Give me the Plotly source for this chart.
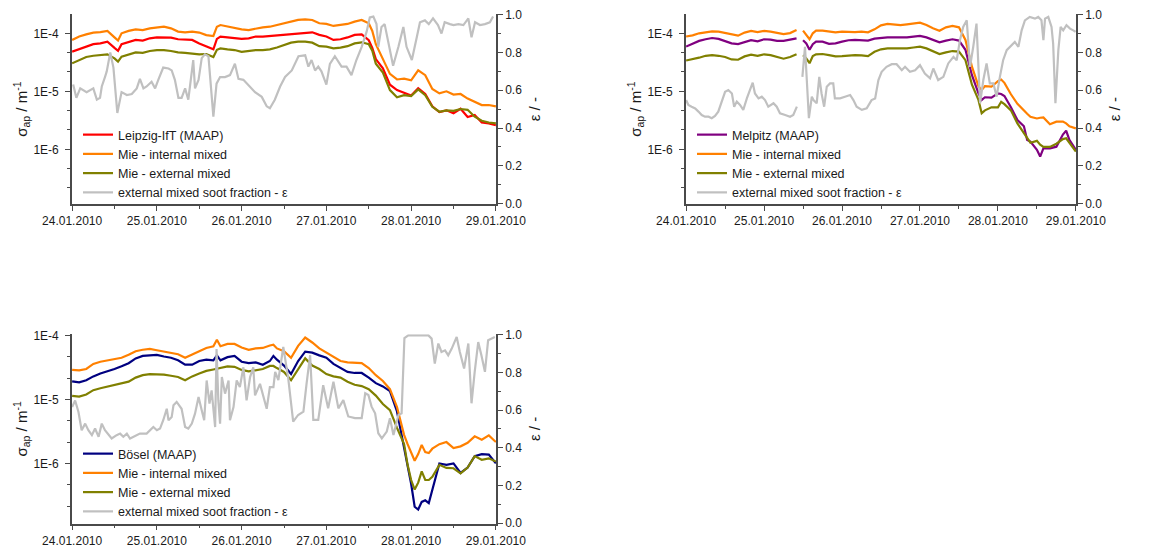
import pandas as pd
import plotly.graph_objects as go

# ---------------- DATA (hours after 24.01.2010 00:00) ----------------
T0 = pd.Timestamp("2010-01-24 00:00")

# Panel 1 : Leipzig-IfT
leip_hours = [0, 2, 4, 6, 8, 10, 12, 13, 14, 16, 18, 20, 22, 24, 26, 28, 30, 32, 34, 36, 38, 40, 41,
              42, 44, 46, 48, 50, 52, 54, 56, 58, 60, 62, 64, 66, 68, 70, 72, 74, 76, 78, 80, 82, 84, 85,
              86, 88, 90, 92, 94, 96, 98, 100, 102, 104, 106, 108, 110, 112, 114, 116, 118, 120]
leip_maap = [4.83e-5, 5.3e-5, 5.9e-5, 6.5e-5, 6.7e-5, 7.2e-5, 5.6e-5, 5.0e-5, 6.5e-5, 7.0e-5, 7.7e-5, 7.5e-5,
             8.2e-5, 8.5e-5, 8.5e-5, 8.4e-5, 7.9e-5, 7.9e-5, 7.7e-5, 6.7e-5, 6.0e-5, 5.3e-5, 8.0e-5,
             8.8e-5, 8.5e-5, 8.2e-5, 8.0e-5, 8.2e-5, 8.8e-5, 8.8e-5, 9.0e-5, 9.2e-5, 9.4e-5, 9.7e-5, 1.0e-4,
             1.03e-4, 1.04e-4, 9.4e-5, 8.8e-5, 7.7e-5, 7.9e-5, 8.5e-5, 9.4e-5, 9.6e-5, 7.6e-5, 5.6e-5,
             3.6e-5, 2.5e-5, 1.3e-5, 1.05e-5, 9.5e-6, 8.5e-6, 1.13e-5, 9.0e-6, 5.5e-6, 4.4e-6, 4.7e-6, 4.2e-6,
             5.0e-6, 3.6e-6, 3.9e-6, 2.9e-6, 2.8e-6, 2.6e-6]
leip_int = [7.7e-5, 8.8e-5, 9.6e-5, 1.03e-4, 1.05e-4, 1.1e-4, 8.5e-5, 7.5e-5, 1.0e-4, 1.1e-4, 1.17e-4, 1.14e-4,
            1.22e-4, 1.27e-4, 1.3e-4, 1.22e-4, 1.07e-4, 1.04e-4, 1.07e-4, 1.03e-4, 9.3e-5, 9.0e-5, 1.3e-4,
            1.39e-4, 1.3e-4, 1.22e-4, 1.17e-4, 1.14e-4, 1.22e-4, 1.27e-4, 1.3e-4, 1.39e-4, 1.49e-4, 1.59e-4,
            1.7e-4, 1.74e-4, 1.7e-4, 1.49e-4, 1.45e-4, 1.34e-4, 1.39e-4, 1.45e-4, 1.59e-4, 1.7e-4, 1.49e-4,
            1.1e-4, 6.5e-5, 3.6e-5, 2.0e-5, 1.6e-5, 1.65e-5, 1.55e-5, 2.3e-5, 1.9e-5, 1.1e-5, 9.2e-6, 1.0e-5,
            8.8e-6, 9.0e-6, 7.5e-6, 6.5e-6, 5.8e-6, 5.8e-6, 5.5e-6]
leip_ext = [3.04e-5, 3.5e-5, 3.9e-5, 4.1e-5, 4.2e-5, 4.35e-5, 3.7e-5, 3.25e-5, 3.95e-5, 4.35e-5, 4.7e-5, 4.6e-5,
            4.95e-5, 5.15e-5, 5.15e-5, 4.95e-5, 4.7e-5, 4.6e-5, 4.5e-5, 4.35e-5, 4.4e-5, 3.9e-5, 5.2e-5,
            5.5e-5, 5.3e-5, 5.15e-5, 4.8e-5, 4.95e-5, 5.15e-5, 5.15e-5, 5.3e-5, 5.7e-5, 6.3e-5, 6.9e-5, 7.2e-5,
            7.2e-5, 6.9e-5, 6.0e-5, 5.9e-5, 5.5e-5, 5.65e-5, 6.0e-5, 6.7e-5, 7.0e-5, 6.5e-5, 5.0e-5,
            3.0e-5, 2.1e-5, 1.05e-5, 7.9e-6, 8.6e-6, 8.3e-6, 1.08e-5, 8.6e-6, 5.4e-6, 4.45e-6, 4.7e-6, 4.6e-6,
            4.95e-6, 4.8e-6, 3.65e-6, 3.1e-6, 2.9e-6, 2.8e-6]
leip_eps_hours = [0.3, 1.2, 2.3, 4.1, 6.0, 7.0, 7.9, 8.4, 9.3, 9.8, 10.8, 11.7, 12.8, 14.0, 15.5, 16.9, 18.3,
                  19.2, 20.2, 21.1, 22.5, 23.5, 24.4, 25.8, 27.3, 28.2, 29.1, 30.1, 31.0, 32.0, 32.9, 33.6,
                  34.3, 34.8, 35.8, 36.7, 37.6, 38.6, 40.0, 40.9, 41.9, 43.3, 44.7, 46.1, 47.1, 48.5, 49.9,
                  51.8, 53.7, 55.1, 56.0, 57.4, 58.9, 60.3, 62.2, 64.1, 66.0, 66.9, 67.8, 68.8, 69.7, 70.6,
                  72.0, 73.0, 74.4, 76.3, 77.7, 79.1, 80.5, 82.0, 83.4, 84.3, 85.3, 86.2, 86.7, 87.6, 88.5,
                  89.5, 90.9, 92.4, 93.8, 94.7, 96.2, 97.6, 98.5, 99.9, 101.0, 102.2, 103.6, 104.6, 105.5,
                  107.0, 108.0, 109.4, 110.8, 112.2, 113.1, 114.1, 115.5, 116.9, 118.3, 119.2]
leip_eps = [0.63, 0.56, 0.61, 0.59, 0.61, 0.55, 0.56, 0.62, 0.67, 0.70, 0.80, 0.72, 0.48, 0.59, 0.575, 0.58, 0.61,
            0.66, 0.61, 0.62, 0.645, 0.61, 0.655, 0.72, 0.715, 0.705, 0.655, 0.56, 0.56, 0.61, 0.55, 0.655,
            0.76, 0.61, 0.655, 0.77, 0.79, 0.78, 0.46, 0.635, 0.67, 0.67, 0.68, 0.74, 0.66, 0.655, 0.625,
            0.59, 0.565, 0.515, 0.505, 0.55, 0.62, 0.67, 0.705, 0.78, 0.785, 0.725, 0.76, 0.705, 0.725, 0.70,
            0.63, 0.74, 0.78, 0.725, 0.725, 0.68, 0.76, 0.83, 0.91, 0.985, 0.99, 0.95, 0.83, 0.935, 0.95,
            0.865, 0.73, 0.83, 0.935, 0.83, 0.76, 0.88, 0.96, 0.97, 0.95, 0.98, 0.945, 0.90, 0.96,
            0.95, 0.945, 0.95, 0.945, 0.98, 0.88, 0.96, 0.945, 0.95, 0.96, 0.99]

# Panel 2 : Melpitz (None = data gap)
melp_hours = [0, 2, 4, 6, 8, 10, 12, 14, 16, 18, 20, 22, 24, 26, 28, 30, 32, 34, 35, 36, 37, 38, 39, 40,
              42, 44, 46, 48, 50, 52, 54, 56, 58, 60, 62, 64, 66, 68, 70, 72, 74, 76, 78, 80, 82, 84,
              86, 88, 90, 91, 92, 94, 96, 97, 98, 100, 102, 104, 105, 106, 108, 109, 110, 112, 114, 116,
              117, 118, 120]
melp_maap = [5.9e-5, 6.6e-5, 7.4e-5, 7.9e-5, 8.3e-5, 8.0e-5, 7.4e-5, 6.7e-5, 6.5e-5, 7.1e-5, 7.6e-5, 7.3e-5,
             7.9e-5, 7.8e-5, 7.4e-5, 7.4e-5, 7.7e-5, 8.2e-5, None, 7.6e-5, 6.7e-5, 5.2e-5, 6.5e-5, 7.2e-5,
             7.2e-5, 6.6e-5, 6.7e-5, 7.2e-5, 7.6e-5, 7.7e-5, 7.6e-5, 7.5e-5, 8.1e-5, 8.4e-5, 8.5e-5, 8.5e-5,
             8.4e-5, 8.5e-5, 8.8e-5, 9.0e-5, 8.5e-5, 7.7e-5, 7.0e-5, 7.5e-5, 7.9e-5, 7.5e-5,
             5.2e-5, 1.9e-5, 9.2e-6, 7.1e-6, 7.9e-6, 7.8e-6, 9.2e-6, 9.0e-6, 8.3e-6, 5.3e-6, 3.2e-6, 2.5e-6,
             1.45e-6, 1.36e-6, 9.8e-7, 7.5e-7, 1.04e-6, 1.04e-6, 1.11e-6, 1.8e-6, 2.1e-6, 1.45e-6, 9.8e-7]
melp_int = [8.8e-5, 9.2e-5, 1.0e-4, 1.04e-4, 1.08e-4, 1.07e-4, 1.01e-4, 9.5e-5, 9.1e-5, 1.03e-4, 1.1e-4, 1.05e-4,
            1.1e-4, 1.07e-4, 1.01e-4, 9.7e-5, 1.01e-4, 1.14e-4, None, 1.11e-4, 9.4e-5, 7.9e-5, 1.0e-4, 1.11e-4,
            1.11e-4, 1.07e-4, 1.04e-4, 1.07e-4, 1.05e-4, 1.05e-4, 1.07e-4, 1.04e-4, 1.17e-4, 1.37e-4, 1.45e-4,
            1.43e-4, 1.39e-4, 1.43e-4, 1.49e-4, 1.53e-4, 1.39e-4, 1.22e-4, 1.11e-4, 1.27e-4, 1.34e-4, 1.27e-4,
            7.7e-5, 2.66e-5, 1.23e-5, 1.05e-5, 1.23e-5, 1.2e-5, 1.5e-5, 1.6e-5, 1.4e-5, 8.9e-6, 6.1e-6, 4.6e-6,
            4.1e-6, 3.65e-6, 3.4e-6, 3.5e-6, 3.55e-6, 2.7e-6, 3.0e-6, 3.0e-6, 2.8e-6, 2.5e-6, 2.3e-6]
melp_ext = [3.4e-5, 3.55e-5, 3.8e-5, 4.1e-5, 4.2e-5, 4.1e-5, 3.9e-5, 3.55e-5, 3.5e-5, 4.0e-5, 4.3e-5, 4.1e-5,
            4.35e-5, 4.2e-5, 3.9e-5, 3.65e-5, 3.9e-5, 4.35e-5, None, 4.2e-5, 3.7e-5, 3.05e-5, 4.05e-5, 4.35e-5,
            4.4e-5, 4.2e-5, 4.0e-5, 4.05e-5, 4.15e-5, 4.2e-5, 4.15e-5, 4.05e-5, 4.8e-5, 5.3e-5, 5.5e-5, 5.5e-5,
            5.45e-5, 5.5e-5, 5.7e-5, 5.9e-5, 5.5e-5, 4.85e-5, 4.4e-5, 4.7e-5, 4.95e-5, 4.85e-5,
            3.45e-5, 1.3e-5, 7.1e-6, 4.2e-6, 4.7e-6, 5.3e-6, 5.3e-6, 6.6e-6, 6.0e-6, 4.7e-6, 2.8e-6, 1.9e-6,
            1.6e-6, 1.3e-6, 1.4e-6, 1.2e-6, 1.1e-6, 1.1e-6, 1.25e-6, 1.5e-6, 1.55e-6, 1.3e-6, 9.1e-7]
melp_eps_hours = [0.0, 0.7, 1.7, 2.8, 3.8, 4.8, 5.8, 6.9, 7.9, 8.9, 9.9, 11.0, 12.0, 13.0, 14.1, 14.8, 15.6,
                  16.6, 17.6, 18.7, 19.7, 20.5, 21.2, 22.3, 23.3, 24.3, 25.3, 26.9, 27.9, 28.9, 30.5, 32.0,
                  33.0, 34.1, 35.0, 35.8, 36.6, 37.8, 38.7, 39.2, 40.2, 41.0, 41.7, 42.5, 43.3, 44.3, 45.3,
                  45.8, 47.4, 48.9, 50.5, 51.5, 52.5, 54.1, 55.6, 57.1, 58.2, 59.2, 60.2, 61.7, 63.3, 64.8,
                  66.4, 67.4, 68.9, 70.5, 72.0, 73.5, 75.1, 76.1, 77.6, 79.2, 80.7, 82.3, 83.3, 84.3, 85.3,
                  86.4, 87.4, 88.4, 89.4, 90.5, 91.5, 92.5, 93.5, 94.6, 95.6, 96.6, 97.6, 98.7, 100.2, 101.2,
                  102.3, 103.3, 104.3, 105.8, 107.4, 108.4, 109.4, 110.0, 110.5, 111.5, 112.5, 113.0, 113.7,
                  114.6, 115.3, 116.1, 117.1, 118.2, 119.2, 119.9]
melp_eps = [0.548, 0.522, 0.513, 0.504, 0.487, 0.469, 0.46, 0.46, 0.452, 0.464, 0.487, 0.548, 0.592, 0.601, 0.583,
            0.513, 0.54, 0.522, 0.496, 0.557, 0.61, 0.64, 0.583, 0.557, 0.566, 0.548, 0.513, 0.531, 0.513, 0.478,
            0.469, 0.46, 0.469, 0.513, None, 0.671, 0.83, 0.452, 0.566, 0.548, 0.531, 0.671, 0.583, 0.513, 0.619,
            0.636, 0.636, 0.557, 0.557, 0.566, 0.575, 0.548, 0.513, 0.496, 0.504, 0.548, 0.557, 0.654, 0.698,
            0.724, 0.738, 0.738, 0.706, 0.724, 0.698, 0.706, 0.733, 0.689, 0.663, 0.715, 0.654, 0.671, 0.742,
            0.777, 0.759, 0.865, 0.935, 0.97, 0.724, 0.83, 0.953, 0.531, 0.654, 0.742, 0.636, 0.636, 0.566, 0.671,
            0.759, 0.812, 0.838, 0.856, 0.83, 0.917, 0.97, 0.988, 0.979, 0.988, 0.97, 0.865, 0.979, 0.988, 0.935,
            0.847, 0.531, 0.812, 0.935, 0.917, 0.944, 0.926, 0.917, 0.909]

# Panel 3 : Bösel
bos_hours = [0, 2, 4, 6, 8, 10, 12, 14, 16, 18, 20, 22, 24, 26, 28, 30, 32, 34, 36, 38, 40, 41,
             42, 44, 46, 48, 50, 52, 54, 56, 57, 58, 60, 62, 64, 66, 68, 70, 72, 74, 76, 78, 80, 82, 84,
             86, 88, 90, 92, 94, 95, 96, 97, 98, 99, 100, 101, 102, 104, 106, 108, 110, 112, 114, 116, 118, 120]
bos_maap = [1.92e-5, 1.85e-5, 2.0e-5, 2.3e-5, 2.55e-5, 2.75e-5, 3.0e-5, 3.3e-5, 3.7e-5, 4.4e-5, 4.8e-5, 4.9e-5,
            5.0e-5, 4.7e-5, 4.5e-5, 4.1e-5, 3.5e-5, 3.5e-5, 4.0e-5, 4.2e-5, 4.1e-5, 4.9e-5,
            4.1e-5, 4.6e-5, 4.8e-5, 3.9e-5, 3.7e-5, 3.8e-5, 3.5e-5, 4.0e-5, 4.8e-5, 4.2e-5, 3.4e-5, 2.5e-5,
            4.0e-5, 5.6e-5, 5.4e-5, 4.9e-5, 4.5e-5, 3.6e-5, 3.1e-5, 2.7e-5, 2.6e-5, 2.6e-5, 2.2e-5,
            1.8e-5, 1.6e-5, 1.35e-5, 6.5e-6, 1.8e-6, 9.0e-7, 4.8e-7, 2.1e-7, 1.9e-7, 2.5e-7, 2.65e-7, 2.4e-7,
            3.9e-7, 1.0e-6, 9.5e-7, 1.0e-6, 7.1e-7, 8.6e-7, 1.3e-6, 1.4e-6, 1.37e-6, 1.0e-6]
bos_int = [2.9e-5, 2.85e-5, 3.0e-5, 3.6e-5, 3.9e-5, 4.1e-5, 4.3e-5, 4.5e-5, 5.0e-5, 5.7e-5, 6.0e-5, 6.2e-5,
           5.9e-5, 5.6e-5, 5.4e-5, 5.1e-5, 4.5e-5, 5.0e-5, 5.7e-5, 6.4e-5, 6.8e-5, 8.6e-5,
           6.8e-5, 7.4e-5, 7.4e-5, 6.5e-5, 6.0e-5, 6.3e-5, 6.4e-5, 7.0e-5, 7.2e-5, 6.3e-5, 5.7e-5, 4.5e-5,
           6.9e-5, 9.3e-5, 7.8e-5, 6.3e-5, 5.4e-5, 4.6e-5, 4.0e-5, 3.8e-5, 3.7e-5, 3.7e-5, 3.1e-5,
           2.4e-5, 1.95e-5, 1.45e-5, 7.6e-6, 2.8e-6, 2.0e-6, 1.5e-6, 1.1e-6, 1.4e-6, 1.95e-6, 1.5e-6, 1.45e-6,
           1.7e-6, 2.0e-6, 2.16e-6, 1.74e-6, 1.85e-6, 2.1e-6, 2.65e-6, 2.35e-6, 2.75e-6, 2.16e-6]
bos_ext = [1.14e-5, 1.11e-5, 1.2e-5, 1.4e-5, 1.5e-5, 1.6e-5, 1.7e-5, 1.8e-5, 1.9e-5, 2.2e-5, 2.4e-5, 2.5e-5,
           2.5e-5, 2.45e-5, 2.35e-5, 2.25e-5, 2.0e-5, 2.3e-5, 2.55e-5, 2.8e-5, 2.95e-5, 3.05e-5,
           3.1e-5, 3.3e-5, 3.25e-5, 2.9e-5, 2.75e-5, 2.85e-5, 3.0e-5, 3.35e-5, 3.35e-5, 3.1e-5, 2.7e-5, 2.0e-5,
           2.9e-5, 4.4e-5, 3.4e-5, 3.0e-5, 2.5e-5, 2.3e-5, 2.2e-5, 1.9e-5, 1.7e-5, 1.62e-5, 1.45e-5,
           1.15e-5, 8.5e-6, 6.8e-6, 3.6e-6, 2.0e-6, 9.5e-7, 5.5e-7, 3.9e-7, 5.0e-7, 7.5e-7, 5.5e-7, 5.5e-7,
           6.2e-7, 9.5e-7, 8.5e-7, 8.4e-7, 7.0e-7, 8.6e-7, 1.3e-6, 1.14e-6, 1.2e-6, 1.07e-6]
bos_eps_hours = [0.0, 0.85, 1.8, 2.7, 3.7, 4.6, 5.6, 6.5, 7.5, 8.4, 9.3, 10.3, 11.2, 12.6, 13.6, 14.5, 15.5,
                 16.4, 17.4, 18.3, 19.2, 21.1, 22.1, 23.0, 24.0, 24.9, 25.8, 26.8, 27.3, 28.2, 28.7, 29.6,
                 31.0, 32.0, 32.9, 33.9, 34.8, 35.8, 36.7, 37.4, 38.1, 38.9, 39.5, 40.5, 40.9, 41.4, 41.9,
                 42.4, 43.3, 44.3, 44.7, 45.7, 46.6, 47.5, 48.5, 49.4, 50.4, 51.3, 51.8, 53.2, 55.1, 56.0,
                 57.0, 57.5, 58.4, 59.8, 61.2, 62.6, 64.0, 65.5, 66.4, 67.4, 68.3, 69.7, 71.1, 72.5, 74.0,
                 75.4, 76.8, 78.2, 80.1, 82.0, 83.0, 83.9, 84.8, 85.8, 86.7, 87.7, 89.1, 90.0, 91.0, 92.4,
                 93.3, 94.1, 95.2, 100.9, 101.8, 102.7, 103.7, 104.6, 105.6, 106.5, 107.5, 108.9, 109.8,
                 111.0, 112.2, 113.1, 114.0, 115.0, 115.9, 116.9, 117.8, 119.7]
bos_eps = [0.616, 0.651, 0.59, 0.493, 0.528, 0.493, 0.467, 0.502, 0.458, 0.528, 0.493, 0.467, 0.449, 0.467, 0.475,
           0.458, 0.475, 0.449, 0.458, 0.467, 0.475, 0.475, 0.493, 0.51, 0.493, 0.502, 0.546, 0.607, 0.546, 0.563,
           0.625, 0.643, 0.607, 0.51, 0.502, 0.528, 0.581, 0.669, 0.599, 0.546, 0.757, 0.634, 0.704, 0.51, 0.924,
           0.651, 0.528, 0.775, 0.687, 0.757, 0.546, 0.616, 0.757, 0.722, 0.827, 0.651, 0.775, 0.827, 0.678,
           0.739, 0.607, 0.722, 0.722, 0.803, 0.759, 0.935, 0.768, 0.539, 0.574, 0.592, 0.741, 0.891, 0.548,
           0.548, 0.732, 0.609, 0.75, 0.609, 0.653, 0.566, 0.557, 0.557, 0.689, 0.68, 0.618, 0.583, 0.477, 0.45,
           0.486, 0.557, 0.468, 0.574, 0.583, 0.982, 0.996, 0.996, 0.979, 0.847, 0.953, 0.908, 0.917, 0.891,
           0.926, 0.988, 0.908, 0.82, 0.953, 0.636, 0.803, 0.961, 0.891, 0.803, 0.97, 0.988]

for a, b in [(leip_hours, leip_maap), (leip_hours, leip_int), (leip_hours, leip_ext), (leip_eps_hours, leip_eps),
             (melp_hours, melp_maap), (melp_hours, melp_int), (melp_hours, melp_ext), (melp_eps_hours, melp_eps),
             (bos_hours, bos_maap), (bos_hours, bos_int), (bos_hours, bos_ext), (bos_eps_hours, bos_eps)]:
    assert len(a) == len(b), (len(a), len(b))

# ---------------- STYLE ----------------
# The page keeps the browser's default 8 px body margin, so the figure is
# 8 px smaller than the window and positions are given in window pixels.
OFF = 8
W, H = 1168 - OFF, 551 - OFF
FONT = "Liberation Sans, Arial, sans-serif"
AXC = "#4a4a4a"
TXT = "#1a1a1a"
RED, ORANGE, OLIVE, GRAY = "#ff0000", "#ff8000", "#808000", "#c0c0c0"
PURPLE, NAVY = "#800080", "#000080"


def fx(p):
    return (p - OFF) / W


def fy(p):
    return 1 - (p - OFF) / H


def tx(hours):
    return [T0 + pd.Timedelta(hours=h) for h in hours]


fig = go.Figure()

panels = [
    dict(name="Leipzig-IfT (MAAP)", color=RED, hours=leip_hours, maap=leip_maap, internal=leip_int,
         external=leip_ext, eh=leip_eps_hours, eps=leip_eps, xa="x", ylog="y", yeps="y2", legend="legend"),
    dict(name="Melpitz (MAAP)", color=PURPLE, hours=melp_hours, maap=melp_maap, internal=melp_int,
         external=melp_ext, eh=melp_eps_hours, eps=melp_eps, xa="x2", ylog="y3", yeps="y4", legend="legend2"),
    dict(name="Bösel (MAAP)", color=NAVY, hours=bos_hours, maap=bos_maap, internal=bos_int,
         external=bos_ext, eh=bos_eps_hours, eps=bos_eps, xa="x3", ylog="y5", yeps="y6", legend="legend3"),
]

for p in panels:
    x = tx(p["hours"])
    common = dict(mode="lines", xaxis=p["xa"], legend=p["legend"], connectgaps=False)
    fig.add_trace(go.Scatter(x=x, y=p["maap"], name=p["name"], yaxis=p["ylog"],
                             line=dict(color=p["color"], width=2.2), **common))
    fig.add_trace(go.Scatter(x=x, y=p["internal"], name="Mie - internal mixed", yaxis=p["ylog"],
                             line=dict(color=ORANGE, width=2.2), **common))
    fig.add_trace(go.Scatter(x=x, y=p["external"], name="Mie - external mixed", yaxis=p["ylog"],
                             line=dict(color=OLIVE, width=2.2), **common))
    fig.add_trace(go.Scatter(x=tx(p["eh"]), y=p["eps"], name="external mixed soot fraction - ε",
                             yaxis=p["yeps"], line=dict(color=GRAY, width=2.2), **common))

# ---------------- AXES ----------------
px_dom = {
    1: dict(x=(72, 496), y=(14.3, 204)),
    2: dict(x=(686, 1076), y=(14.3, 204)),
    3: dict(x=(72, 496), y=(334.3, 523.5)),
}
log_ranges = {1: [-6.943, -3.672], 2: [-6.943, -3.672], 3: [-6.94, -3.98]}

tickfont = dict(family=FONT, size=12, color=TXT)
xr = [T0 - pd.Timedelta(minutes=2), T0 + pd.Timedelta(hours=120, minutes=2)]

minor_log = []
for d in range(-8, -2):
    for k in (1, 2):
        minor_log.append(10 ** (d + k / 3))

ax_names = {1: ("xaxis", "yaxis", "yaxis2", "x", "y"),
            2: ("xaxis2", "yaxis3", "yaxis4", "x2", "y3"),
            3: ("xaxis3", "yaxis5", "yaxis6", "x3", "y5")}

layout_axes = {}
for i, (xn, yln, yen, xref, ylref) in ax_names.items():
    dx = px_dom[i]["x"]
    dy = px_dom[i]["y"]
    layout_axes[xn] = dict(
        domain=[fx(dx[0]), fx(dx[1])], anchor=ylref, type="date", range=xr,
        tick0=T0, dtick=86400000, tickformat="%d.%m.%Y",
        ticks="outside", ticklen=5, tickwidth=1.3, tickcolor=AXC,
        minor=dict(dtick=43200000, tick0=T0, ticks="outside", ticklen=3, tickwidth=1.3, tickcolor=AXC),
        showline=True, linecolor=AXC, linewidth=1.6, showgrid=False, zeroline=False,
        tickfont=tickfont, automargin=False, fixedrange=True, ticklabeloverflow="allow",
    )
    layout_axes[yln] = dict(
        domain=[fy(dy[1]), fy(dy[0])], anchor=xref, type="log", range=log_ranges[i],
        tickmode="array", tickvals=[1e-6, 1e-5, 1e-4], ticktext=["1E-6", "1E-5", "1E-4"],
        ticks="outside", ticklen=5, tickwidth=1.3, tickcolor=AXC, ticklabelstandoff=4,
        minor=dict(tickmode="array", tickvals=minor_log, ticks="outside", ticklen=3, tickwidth=1.3,
                   tickcolor=AXC),
        showline=True, linecolor=AXC, linewidth=1.6, showgrid=False, zeroline=False,
        tickfont=tickfont, automargin=False, ticklabeloverflow="allow",
        title=dict(text="σ<sub>ap</sub> / m<sup>-1</sup>", font=dict(family=FONT, size=15, color=TXT),
                   standoff=2),
    )
    layout_axes[yen] = dict(
        overlaying=ylref, anchor=xref, side="right", range=[-0.002, 1.002],
        tick0=0, dtick=0.2, tickformat=".1f",
        ticks="outside", ticklen=5, tickwidth=1.3, tickcolor=AXC,
        minor=dict(dtick=0.1, tick0=0, ticks="outside", ticklen=3, tickwidth=1.3, tickcolor=AXC),
        showline=True, linecolor=AXC, linewidth=1.6, showgrid=False, zeroline=False,
        tickfont=tickfont, automargin=False, ticklabeloverflow="allow",
        title=dict(text="ε / -", font=dict(family=FONT, size=15, color=TXT), standoff=8),
    )

legend_style = dict(bgcolor="rgba(0,0,0,0)", borderwidth=0, xanchor="left", yanchor="top",
                    font=dict(family=FONT, size=12.5, color=TXT), tracegroupgap=0,
                    itemclick=False, itemdoubleclick=False)

fig.update_layout(
    width=W, height=H, margin=dict(l=0, r=0, t=0, b=0),
    paper_bgcolor="white", plot_bgcolor="white",
    font=dict(family=FONT, size=12, color=TXT),
    legend=dict(x=fx(78), y=fy(120), **legend_style),
    legend2=dict(x=fx(692), y=fy(120), **legend_style),
    legend3=dict(x=fx(78), y=fy(439), **legend_style),
    **layout_axes,
)

fig.write_html("out.html")
